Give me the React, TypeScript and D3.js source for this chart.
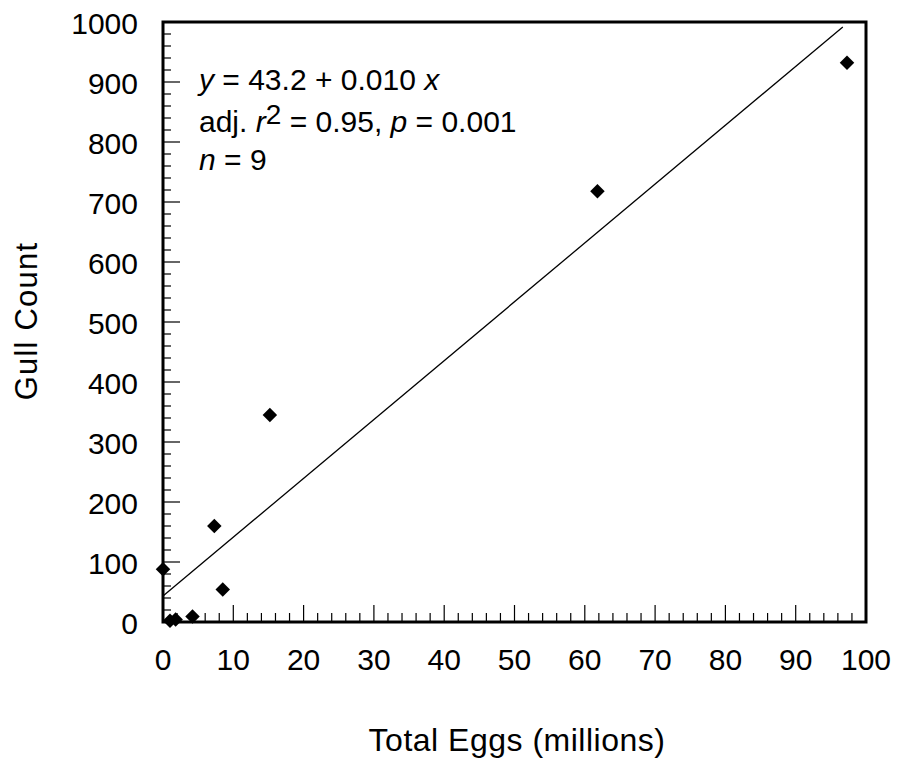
import { useEffect, useRef } from "react";
import * as d3 from "d3";

// Observed points (total eggs in millions, gull count)
const eggs = [0, 1, 1.8, 4.2, 7.3, 8.5, 15.2, 61.8, 97.3];
const gulls = [88, 2, 4, 9, 160, 54, 345, 718, 932];

// Fitted line as drawn: intercept, slope per million eggs, last x
const fitIntercept = 43.2;
const fitSlope = 9.81;
const fitEnd = 96.7;

const xTicks = [0, 10, 20, 30, 40, 50, 60, 70, 80, 90, 100];
const yTicks = [0, 100, 200, 300, 400, 500, 600, 700, 800, 900, 1000];

export default function App() {
  const ref = useRef<SVGSVGElement>(null);

  useEffect(() => {
    const svg = d3.select(ref.current);
    svg.selectAll("*").remove();

    const width = 901;
    const height = 767;
    const left = 163;
    const right = 866;
    const top = 22;
    const bottom = 622;
    const font = "'Liberation Sans', Arial, sans-serif";

    const x = d3.scaleLinear().domain([0, 100]).range([left, right]);
    const y = d3.scaleLinear().domain([0, 1000]).range([bottom, top]);

    svg.attr("width", width).attr("height", height);

    // Minor and major ticks, pointing inward
    const xMinor = d3.range(0, 101, 2);
    svg
      .append("g")
      .selectAll("line")
      .data(xMinor)
      .join("line")
      .attr("x1", (d: number) => x(d))
      .attr("x2", (d: number) => x(d))
      .attr("y1", bottom)
      .attr("y2", (d: number) => bottom - (d % 10 === 0 ? 17 : 9))
      .attr("stroke", "#000")
      .attr("stroke-width", 1.2);

    const yMinor = d3.range(0, 1001, 20);
    svg
      .append("g")
      .selectAll("line")
      .data(yMinor)
      .join("line")
      .attr("y1", (d: number) => y(d))
      .attr("y2", (d: number) => y(d))
      .attr("x1", left)
      .attr("x2", (d: number) => left + (d % 100 === 0 ? 17 : 8))
      .attr("stroke", "#000")
      .attr("stroke-width", 1.2);

    // Frame
    svg
      .append("rect")
      .attr("x", left)
      .attr("y", top)
      .attr("width", right - left)
      .attr("height", bottom - top)
      .attr("fill", "none")
      .attr("stroke", "#000")
      .attr("stroke-width", 3);

    // Tick labels
    svg
      .append("g")
      .selectAll("text")
      .data(xTicks)
      .join("text")
      .attr("x", (d: number) => x(d))
      .attr("y", 670)
      .attr("text-anchor", "middle")
      .attr("font-family", font)
      .attr("font-size", 30)
      .text((d: number) => d);

    svg
      .append("g")
      .selectAll("text")
      .data(yTicks)
      .join("text")
      .attr("x", 138)
      .attr("y", (d: number) => y(d) + 12)
      .attr("text-anchor", "end")
      .attr("font-family", font)
      .attr("font-size", 30)
      .text((d: number) => d);

    // Regression line
    const line = d3
      .line()
      .x((d: number[]) => x(d[0]))
      .y((d: number[]) => y(d[1]));
    svg
      .append("path")
      .attr(
        "d",
        line([
          [0, fitIntercept],
          [fitEnd, fitIntercept + fitSlope * fitEnd],
        ]),
      )
      .attr("stroke", "#000")
      .attr("stroke-width", 1.3)
      .attr("fill", "none");

    // Points as diamonds
    const sym = d3.symbol().type(d3.symbolSquare).size(105);
    svg
      .append("g")
      .selectAll("path")
      .data(eggs.map((e, i) => [e, gulls[i]]))
      .join("path")
      .attr("d", sym())
      .attr(
        "transform",
        (d: number[]) => `translate(${x(d[0])},${y(d[1])}) rotate(45)`,
      )
      .attr("fill", "#000");

    // Annotation
    const note = svg
      .append("g")
      .attr("font-family", font)
      .attr("font-size", 30);
    const t1 = note.append("text").attr("x", 199).attr("y", 90);
    t1.append("tspan").attr("font-style", "italic").text("y");
    t1.append("tspan").text(" = 43.2 + 0.010 ");
    t1.append("tspan").attr("font-style", "italic").text("x");

    const t2 = note.append("text").attr("x", 199).attr("y", 132);
    t2.append("tspan").text("adj. ");
    t2.append("tspan").attr("font-style", "italic").text("r");
    t2.append("tspan").attr("dy", -8).attr("font-size", 28).text("2");
    t2.append("tspan").attr("dy", 8).text(" = 0.95, ");
    t2.append("tspan").attr("font-style", "italic").text("p");
    t2.append("tspan").text(" = 0.001");

    const t3 = note.append("text").attr("x", 199).attr("y", 170);
    t3.append("tspan").attr("font-style", "italic").text("n");
    t3.append("tspan").text(" = 9");

    // Axis titles
    svg
      .append("text")
      .attr("x", 517)
      .attr("y", 751)
      .attr("text-anchor", "middle")
      .attr("font-family", font)
      .attr("font-size", 32)
      .attr("letter-spacing", 0.5)
      .text("Total Eggs (millions)");

    svg
      .append("text")
      .attr("transform", `translate(37,321) rotate(-90)`)
      .attr("text-anchor", "middle")
      .attr("font-family", font)
      .attr("font-size", 31)
      .attr("letter-spacing", 1.2)
      .text("Gull Count");
  }, []);

  return (
    <svg
      ref={ref}
      style={{ position: "absolute", left: 0, top: 0, background: "#fff" }}
    />
  );
}
